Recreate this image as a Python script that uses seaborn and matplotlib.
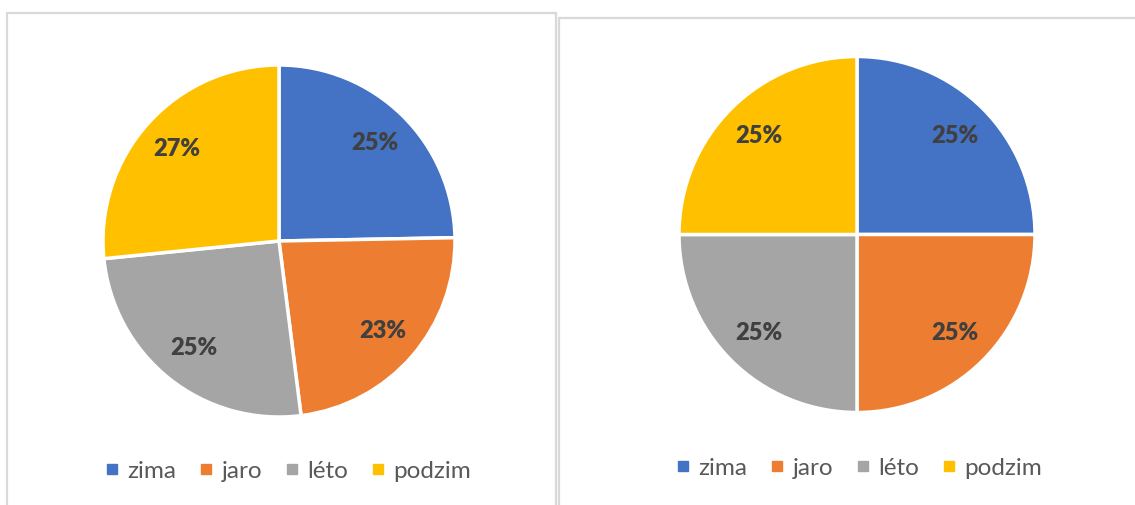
import matplotlib
matplotlib.use("Agg")
import matplotlib.pyplot as plt
from matplotlib.lines import Line2D
import seaborn as sns

# ── Data ──────────────────────────────────────────────────────────────────────
seasons      = ["zima", "jaro", "léto", "podzim"]
left_values  = [24.7, 23.3, 25.4, 26.6]
right_values = [25.0, 25.0, 25.0, 25.0]   # right pie, equal quarters
season_colors = ["#4472C4", "#ED7D31", "#A5A5A5", "#FFC000"]

# ── Style ─────────────────────────────────────────────────────────────────────
sns.set_theme(style="white")
plt.rcParams["font.family"] = ["Lato", "DejaVu Sans"]
palette = sns.color_palette(season_colors)

W, H = 1135, 505
fig = plt.figure(figsize=(W / 100, H / 100), dpi=100)


def px_axes(cx, cy, r):
    """Axes box (figure fraction) for a pie with centre (cx, cy) and radius r in px."""
    return [(cx - r) / W, (H - cy - r) / H, 2 * r / W, 2 * r / H]


def draw_pie(rect, values):
    ax = fig.add_axes(rect)
    ax.pie(values, colors=palette, startangle=90, counterclock=False,
           autopct="%.0f%%", pctdistance=0.78, radius=1,
           wedgeprops=dict(edgecolor="white", linewidth=2.5),
           textprops=dict(color="#404040", fontsize=17, fontweight="heavy"))
    ax.set_xlim(-1.0, 1.0)
    ax.set_ylim(-1.0, 1.0)
    ax.set_aspect("equal")
    ax.axis("off")
    return ax


draw_pie(px_axes(279, 241, 176), left_values)
draw_pie(px_axes(857, 234.5, 178), right_values)

# ── Legends ───────────────────────────────────────────────────────────────────
handles = [Line2D([], [], linestyle="none", marker="s", markersize=7.2,
                  markerfacecolor=c, markeredgecolor=c) for c in palette]

for cx, cy in [(287.5, 471), (858.5, 468)]:
    leg = fig.legend(handles, seasons, loc="center",
                     bbox_to_anchor=(cx / W, 1 - cy / H), ncol=4,
                     frameon=False, fontsize=17.5, handlelength=0.65,
                     handletextpad=0.3, columnspacing=0.9, borderpad=0)
    for t in leg.get_texts():
        t.set_color("#595959")

# ── Panel borders ─────────────────────────────────────────────────────────────
border = dict(color="#d9d9d9", linewidth=1.6, transform=fig.transFigure)


def hline(x0, x1, y):
    fig.add_artist(Line2D([x0 / W, x1 / W], [1 - y / H, 1 - y / H], **border))


def vline(x, y0, y1):
    fig.add_artist(Line2D([x / W, x / W], [1 - y0 / H, 1 - y1 / H], **border))


# left panel
hline(7, 556, 13)
vline(7, 13, H)
vline(556, 13, H)
# right panel
hline(559, W, 18)
vline(559, 18, H)

fig.savefig("out.png", dpi=100)
plt.close(fig)
